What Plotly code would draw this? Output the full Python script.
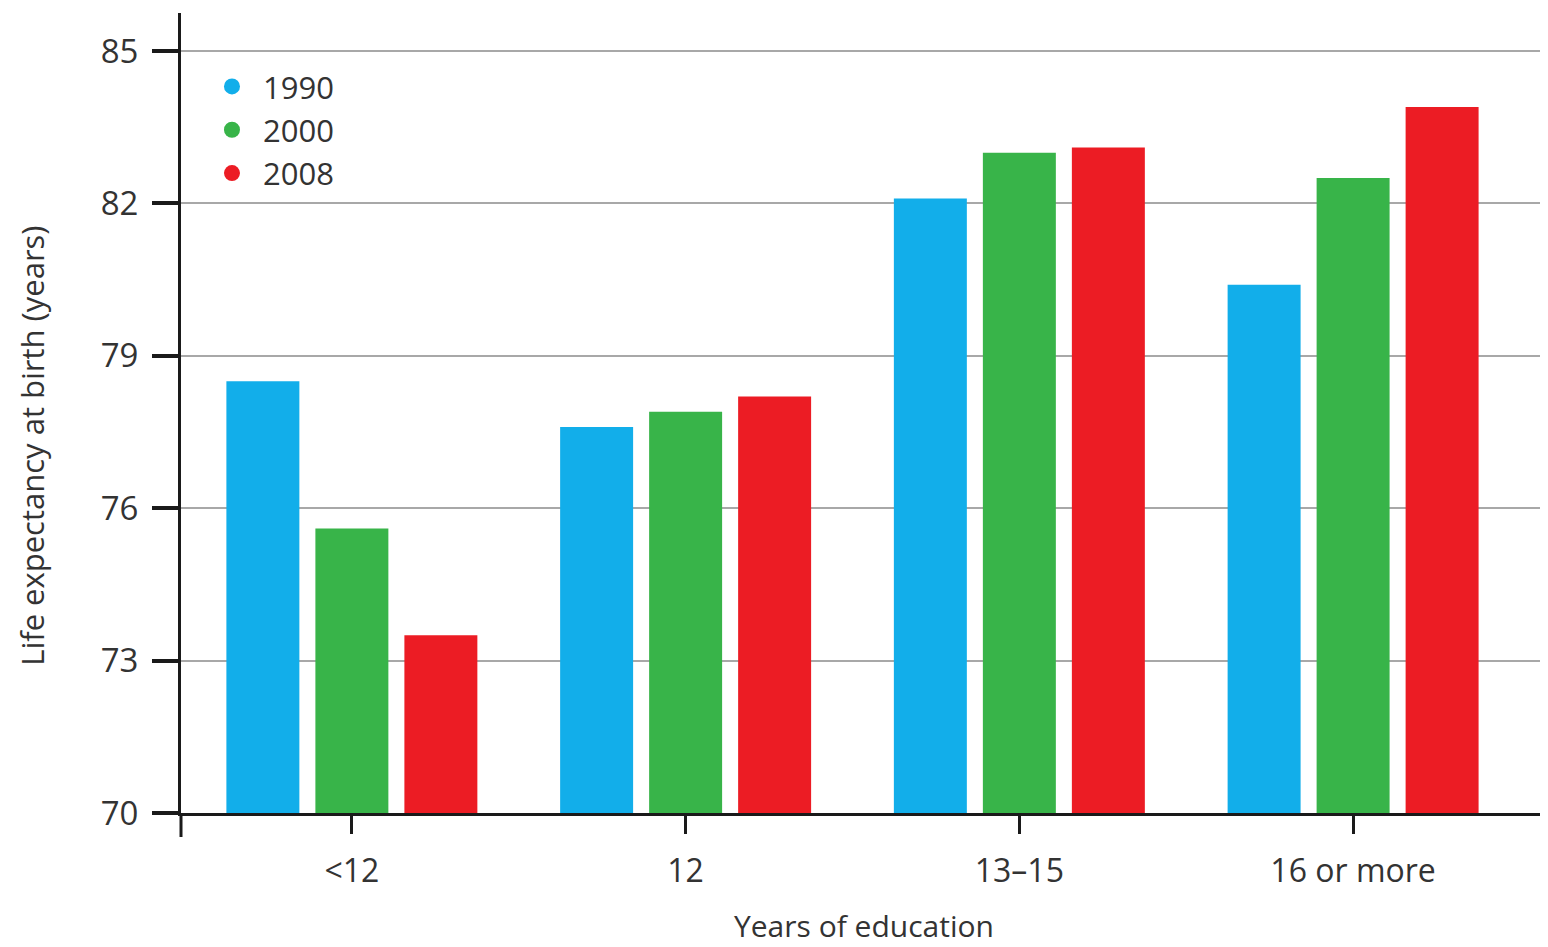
import plotly.graph_objects as go

categories = ["<12", "12", "13–15", "16 or more"]
years = ["1990", "2000", "2008"]
values_1990 = [78.5, 77.6, 82.1, 80.4]
values_2000 = [75.6, 77.9, 83.0, 82.5]
values_2008 = [73.5, 78.2, 83.1, 83.9]
colors = ["#12AEEA", "#38B449", "#EC1C24"]
y_ticks = [70, 73, 76, 79, 82, 85]

series = [values_1990, values_2000, values_2008]
FONT = "Open Sans"
TXT = "#333333"

fig = go.Figure()
for name, vals, col in zip(years, series, colors):
    fig.add_trace(go.Bar(x=categories, y=vals, name=name, marker=dict(color=col, line=dict(width=0)),
                         showlegend=False))
for name, col in zip(years, colors):
    fig.add_trace(go.Scatter(x=[None], y=[None], mode="markers", name=name, legendgroup=name,
                             marker=dict(symbol="circle", size=16, color=col), showlegend=True))

# page body adds an 8px offset, so the figure is 8px smaller on each side
fig.update_layout(
    width=1540, height=939,
    paper_bgcolor="white", plot_bgcolor="white",
    margin=dict(l=173, r=8, t=5, b=134),
    barmode="group", bargap=0.2, bargroupgap=0.18,
    font=dict(family=FONT, color=TXT),
    legend=dict(x=0.0147, y=0.9415, xanchor="left", yanchor="top",
                font=dict(size=31, family=FONT, color=TXT),
                itemwidth=52, bgcolor="rgba(0,0,0,0)", tracegroupgap=0, traceorder="grouped"),
)
fig.update_xaxes(
    type="category", range=[-0.512, 3.56], automargin=False,
    showline=True, linecolor="#1a1a1a", linewidth=3,
    ticks="outside", ticklen=18, tickwidth=3, tickcolor="#1a1a1a",
    tickfont=dict(size=32, family=FONT, color=TXT), ticklabelstandoff=10,
    showgrid=False,
)
fig.update_yaxes(
    range=[70, 85.75], tickvals=y_ticks, ticktext=[str(v) for v in y_ticks], automargin=False,
    showline=True, linecolor="#1a1a1a", linewidth=3,
    ticks="outside", ticklen=26, tickwidth=4, tickcolor="#1a1a1a",
    tickfont=dict(size=33, family=FONT, color=TXT), ticklabelstandoff=7,
    showgrid=True, gridcolor="#a8a8a8", gridwidth=1.5,
    zeroline=False,
)
fig.add_annotation(text="Years of education",
                   xref="paper", yref="paper", x=0.5, y=0, xanchor="center", yanchor="middle",
                   xshift=3, yshift=-112, showarrow=False,
                   font=dict(size=30, family=FONT, color=TXT))
fig.add_annotation(text="Life expectancy at birth (years)", textangle=-90,
                   xref="paper", yref="paper", x=0, y=0.459, xanchor="center", yanchor="middle",
                   xshift=-149, showarrow=False,
                   font=dict(size=31, family=FONT, color=TXT))
# small extension of the vertical axis below the baseline
fig.add_shape(type="line", xref="paper", yref="paper", x0=0, x1=0, y0=0, y1=-0.03,
              line=dict(color="#1a1a1a", width=3))

fig.write_html("out.html")
